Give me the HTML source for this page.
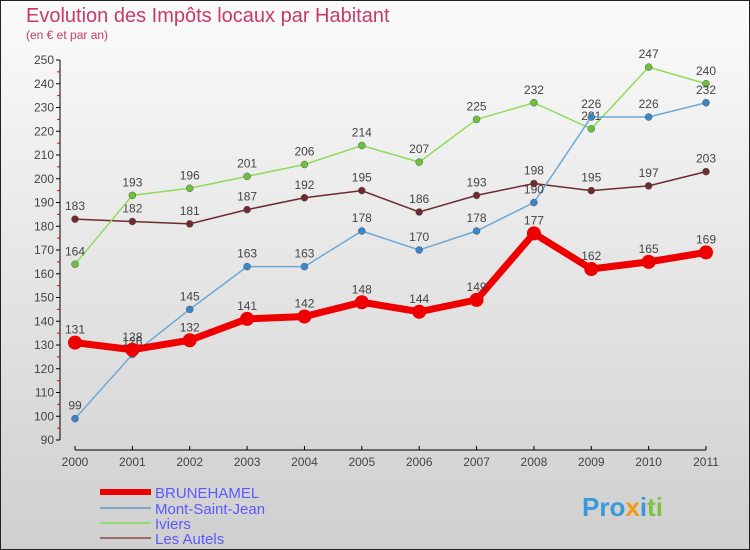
<!DOCTYPE html>
<html><head><meta charset="utf-8"><style>
body{margin:0}
svg{display:block;font-family:"Liberation Sans",sans-serif}
</style></head><body>
<svg id="c" width="750" height="550" xmlns="http://www.w3.org/2000/svg">
<defs><linearGradient id="bg" x1="0" y1="0" x2="0" y2="1"><stop offset="0" stop-color="#fbfbfb"/><stop offset="1" stop-color="#cfcfcf"/></linearGradient></defs>
<rect x="0.5" y="0.5" width="749" height="549" fill="url(#bg)" stroke="#222"/>
<text x="26" y="22" font-size="20" fill="#c8396a">Evolution des Impôts locaux par Habitant</text>
<text x="26" y="39" font-size="12" fill="#c8396a">(en € et par an)</text>
<g id="axes"></g><g id="series"></g><g id="legend"></g>
<text x="582" y="516" font-size="26" font-weight="bold" fill="#3a9ad9">Pro<tspan fill="#f39c12">x</tspan><tspan fill="#3a9ad9">i</tspan><tspan fill="#7cc242">ti</tspan></text>
</svg>
<script>
const years=[2000,2001,2002,2003,2004,2005,2006,2007,2008,2009,2010,2011];
const brunehamel=[131,128,132,141,142,148,144,149,177,162,165,169];
const montSaintJean=[99,126,145,163,163,178,170,178,190,226,226,232];
const iviers=[164,193,196,201,206,214,207,225,232,221,247,240];
const lesAutels=[183,182,181,187,192,195,186,193,198,195,197,203];
const yTicks=[90,100,110,120,130,140,150,160,170,180,190,200,210,220,230,240,250];
const NS="http://www.w3.org/2000/svg";
const X=i=>75+i*(706-75)/(years.length-1);
const Y=v=>440-(v-90)*380/160;
function mk(t,a,p){const e=document.createElementNS(NS,t);for(const k in a)e.setAttribute(k,a[k]);p.appendChild(e);return e;}
const ax=document.getElementById('axes');
const yl=mk('line',{x1:60,y1:Y(250),x2:60,y2:Y(90),stroke:'#000'},ax);


yTicks.forEach(v=>{
 mk('line',{x1:56,x2:60,y1:Y(v),y2:Y(v),stroke:'#000'},ax);
 if(v<250) mk('line',{x1:57,x2:60,y1:Y(v+5),y2:Y(v+5),stroke:'#d00'},ax);
 const t=mk('text',{x:54,y:Y(v)+4,'font-size':12,'text-anchor':'end',fill:'#444'},ax);t.textContent=v;
 
 
});
const xl=mk('line',{x1:75,y1:450,x2:706,y2:450,stroke:'#000'},ax);


years.forEach((y,i)=>{
 mk('line',{x1:X(i),x2:X(i),y1:446,y2:450,stroke:'#000'},ax);
 const t=mk('text',{x:X(i),y:466,'font-size':12,'text-anchor':'middle',fill:'#444'},ax);t.textContent=y;
 
 
});
const sg=document.getElementById('series');
const defs=[
 {d:lesAutels,c:'#6e2a2e',w:1.5,r:3.5,n:'les-autels'},
 {d:iviers,c:'#8fdc5a',w:1.5,r:3.5,n:'iviers',fc:'#6cc23a'},
 {d:montSaintJean,c:'#6fa8d6',w:1.5,r:3.5,n:'mont-saint-jean',fc:'#3a86c8'},
 {d:brunehamel,c:'#ee0000',w:7,r:7,n:'brunehamel'}];
defs.forEach(s=>{
 const g=mk('g',{},sg);
 
 
 mk('polyline',{points:s.d.map((v,i)=>X(i)+','+Y(v)).join(' '),fill:'none',stroke:s.c,'stroke-width':s.w},g);
 s.d.forEach((v,i)=>{
  const p=mk('circle',{cx:X(i),cy:Y(v),r:s.r,fill:s.fc||s.c,stroke:s.w>2?'none':'#555','stroke-width':0.5},g);
  
  
  const t=mk('text',{x:X(i),y:Y(v)-9,'font-size':12,'text-anchor':'middle',fill:'#444'},g);t.textContent=v;
  
  
 });
});
const lg=document.getElementById('legend');
[['BRUNEHAMEL','#ee0000',6,492],['Mont-Saint-Jean','#7ba9cc',2,508],['Iviers','#98d67a',2,523],['Les Autels','#9a6a6a',2,538]].forEach(([n,c,w,y])=>{
 const g=mk('g',{},lg);
 
 
 mk('line',{x1:100,x2:151,y1:y,y2:y,stroke:c,'stroke-width':w},g);
 const t=mk('text',{x:155,y:y+6,'font-size':15,fill:'#5a5aff'},g);t.textContent=n;
});
</script>
</body></html>
